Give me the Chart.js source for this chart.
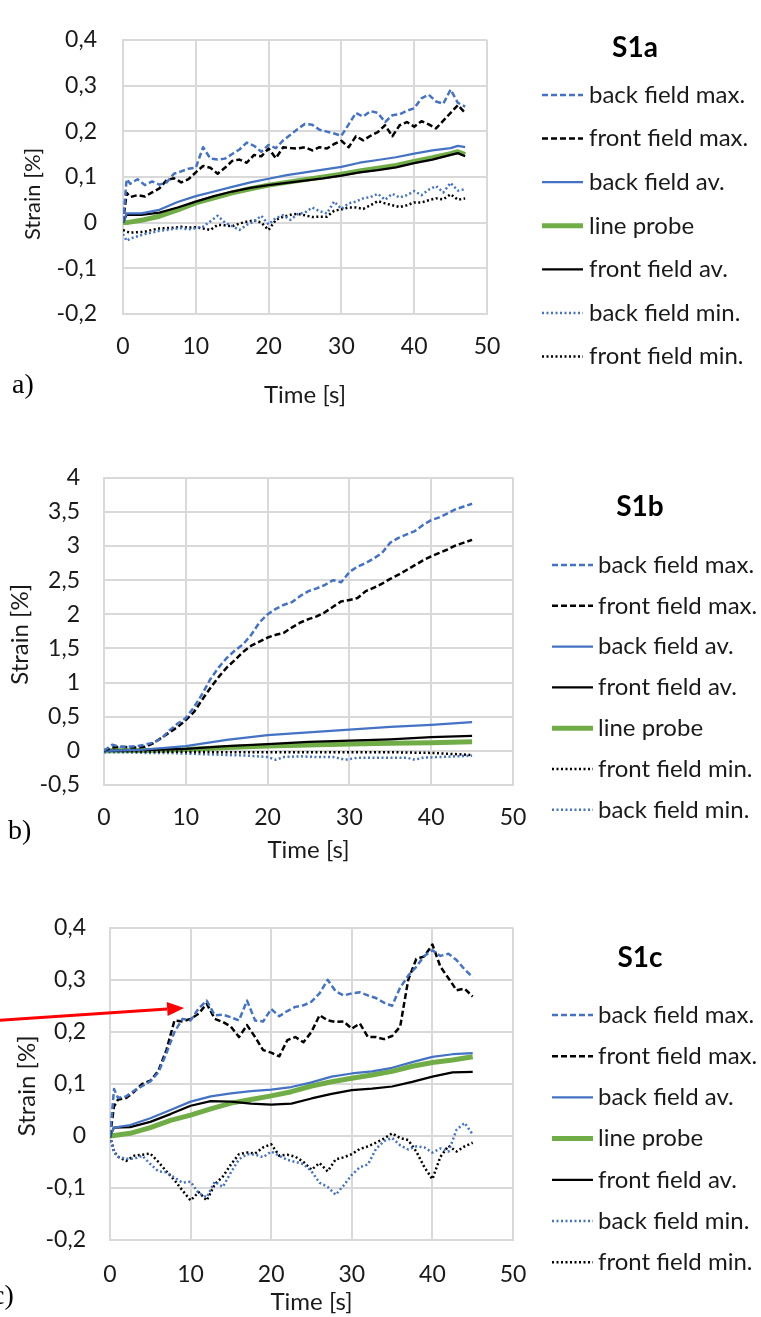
<!DOCTYPE html>
<html>
<head>
<meta charset="utf-8">
<script src="https://cdn.jsdelivr.net/npm/chart.js@4.4.1/dist/chart.umd.min.js"></script>
<style>
  html, body { margin: 0; padding: 0; background: #ffffff; }
  #page { position: relative; width: 761px; height: 1317px; overflow: hidden; background: #ffffff; }
  #page canvas { position: absolute; left: 0; }
</style>
</head>
<body>
<div id="page">
  <canvas id="chartA" width="761" height="430" style="top:0px"></canvas>
  <canvas id="chartB" width="761" height="440" style="top:440px"></canvas>
  <canvas id="chartC" width="761" height="427" style="top:890px"></canvas>
</div>
<script>
// ---------- shared tick values ----------
const xTickValues = [0, 10, 20, 30, 40, 50];
const yTicksA = [-0.2, -0.1, 0, 0.1, 0.2, 0.3, 0.4];
const yTicksB = [-0.5, 0, 0.5, 1, 1.5, 2, 2.5, 3, 3.5, 4];
const yTicksC = [-0.2, -0.1, 0, 0.1, 0.2, 0.3, 0.4];

// ---------- panel a (S1a) ----------
const timeA = [0, 0.5, 1, 2, 3, 4, 5, 6, 7, 8, 9, 10, 11, 12, 13, 14, 15, 16, 17, 18, 19, 20, 21, 22, 23, 24,
  25, 26, 27, 28, 29, 30, 31, 32, 33, 34, 35, 36, 37, 38, 39, 40, 41, 42, 43, 44, 45, 46, 47];
const backMaxA = [0, 0.095, 0.085, 0.095, 0.082, 0.09, 0.083, 0.088, 0.107, 0.112, 0.118, 0.12, 0.165, 0.14,
  0.138, 0.14, 0.15, 0.16, 0.175, 0.168, 0.155, 0.17, 0.163, 0.18, 0.192, 0.205, 0.216, 0.214, 0.203, 0.199,
  0.195, 0.19, 0.215, 0.24, 0.232, 0.244, 0.24, 0.22, 0.235, 0.237, 0.245, 0.25, 0.272, 0.28, 0.265, 0.26,
  0.291, 0.262, 0.254];
const frontMaxA = [0, 0.065, 0.056, 0.06, 0.057, 0.066, 0.075, 0.093, 0.097, 0.088, 0.095, 0.11, 0.124, 0.12,
  0.107, 0.12, 0.135, 0.138, 0.131, 0.148, 0.145, 0.162, 0.141, 0.165, 0.163, 0.162, 0.165, 0.158, 0.165,
  0.162, 0.172, 0.179, 0.165, 0.189, 0.18, 0.19, 0.198, 0.213, 0.189, 0.213, 0.22, 0.21, 0.222, 0.215, 0.206,
  0.223, 0.24, 0.257, 0.24];
const backMinA = [-0.025, -0.04, -0.035, -0.03, -0.025, -0.022, -0.018, -0.016, -0.014, -0.012, -0.015, -0.012,
  -0.009, 0.003, 0.015, 0.0, -0.008, -0.016, -0.005, 0.002, 0.015, -0.004, 0.01, 0.016, 0.006, 0.019, 0.022,
  0.033, 0.025, 0.02, 0.046, 0.03, 0.042, 0.046, 0.053, 0.056, 0.063, 0.05, 0.063, 0.055, 0.06, 0.069, 0.06,
  0.072, 0.08, 0.066, 0.087, 0.07, 0.073];
const frontMinA = [-0.016, -0.02, -0.022, -0.021, -0.02, -0.016, -0.013, -0.012, -0.011, -0.009, -0.011, -0.01,
  -0.013, -0.016, -0.005, -0.006, -0.008, -0.002, 0.002, 0.005, 0.0, -0.016, 0.006, 0.013, 0.017, 0.019, 0.016,
  0.012, 0.013, 0.013, 0.026, 0.029, 0.033, 0.033, 0.03, 0.038, 0.047, 0.042, 0.038, 0.034, 0.038, 0.044,
  0.044, 0.049, 0.053, 0.051, 0.062, 0.05, 0.053];
const timeAvA = [0, 0.5, 2.5, 5, 7.5, 10, 12.5, 15, 17.5, 20, 22.5, 25, 27.5, 30, 32.5, 35, 37.5, 40, 42.5, 45, 46, 47];
const backAvA = [0, 0.02, 0.02, 0.028, 0.045, 0.058, 0.068, 0.078, 0.088, 0.096, 0.104, 0.11, 0.116, 0.122,
  0.131, 0.137, 0.143, 0.151, 0.158, 0.163, 0.168, 0.165];
const probeA = [0, 0, 0.005, 0.014, 0.028, 0.043, 0.054, 0.065, 0.074, 0.082, 0.088, 0.094, 0.1, 0.106, 0.113,
  0.119, 0.125, 0.134, 0.142, 0.151, 0.155, 0.149];
const frontAvA = [0, 0.017, 0.017, 0.022, 0.033, 0.046, 0.058, 0.068, 0.076, 0.082, 0.087, 0.092, 0.097, 0.103,
  0.11, 0.115, 0.121, 0.13, 0.138, 0.148, 0.152, 0.145];

// ---------- panel b (S1b) ----------
const timeB = [0, 1, 2, 3, 4, 5, 6, 7, 8, 9, 10, 11, 12, 13, 14, 15, 16, 17, 18, 19, 20, 21, 22, 23, 24, 25,
  26, 27, 28, 29, 30, 31, 32, 33, 34, 35, 36, 37, 38, 39, 40, 41, 42, 43, 44, 45];
const backMaxB = [0, 0.09, 0.06, 0.06, 0.07, 0.09, 0.12, 0.18, 0.3, 0.4, 0.48, 0.64, 0.83, 1.05, 1.22, 1.36,
  1.47, 1.56, 1.7, 1.88, 2.0, 2.08, 2.14, 2.18, 2.27, 2.34, 2.38, 2.43, 2.5, 2.47, 2.62, 2.7, 2.75, 2.82, 2.9,
  3.05, 3.12, 3.17, 3.22, 3.31, 3.38, 3.42, 3.48, 3.54, 3.58, 3.62];
const frontMaxB = [0, 0.05, 0.06, 0.05, 0.05, 0.06, 0.11, 0.19, 0.27, 0.35, 0.45, 0.57, 0.75, 0.92, 1.08, 1.22,
  1.33, 1.45, 1.54, 1.6, 1.66, 1.7, 1.73, 1.81, 1.88, 1.93, 1.97, 2.03, 2.11, 2.19, 2.21, 2.24, 2.34, 2.39,
  2.45, 2.52, 2.58, 2.65, 2.72, 2.79, 2.85, 2.9, 2.95, 3.01, 3.05, 3.09];
const timeAvB = [0, 5, 10, 15, 20, 25, 30, 35, 40, 45];
const backAvB = [0, 0.02, 0.07, 0.16, 0.23, 0.27, 0.31, 0.35, 0.38, 0.42];
const frontAvB = [0, 0.01, 0.03, 0.07, 0.1, 0.13, 0.15, 0.17, 0.2, 0.22];
const probeB = [0, 0.005, 0.02, 0.05, 0.07, 0.085, 0.1, 0.11, 0.12, 0.135];
const frontMinB = [0, -0.01, -0.015, -0.02, -0.02, -0.02, -0.02, -0.02, -0.03, -0.06];
const timeMinB = [0, 2.5, 5, 7.5, 10, 12.5, 15, 17.5, 20, 21, 22, 24, 26, 28, 29.5, 31, 33, 35, 37, 38, 39, 41, 43, 45];
const backMinB = [-0.02, -0.02, -0.03, -0.03, -0.04, -0.05, -0.06, -0.07, -0.09, -0.13, -0.09, -0.08, -0.09,
  -0.09, -0.13, -0.1, -0.1, -0.1, -0.1, -0.13, -0.1, -0.09, -0.08, -0.07];

// ---------- panel c (S1c) ----------
const timeC = [0, 0.5, 1, 2, 3, 4, 5, 6, 7, 8, 9, 10, 11, 12, 13, 14, 15, 16, 17, 18, 19, 20, 21, 22, 23, 24,
  25, 26, 27, 28, 29, 30, 31, 32, 33, 34, 35, 36, 37, 38, 39, 40, 41, 42, 43, 44, 45];
const backMaxC = [0, 0.09, 0.073, 0.076, 0.087, 0.096, 0.105, 0.122, 0.159, 0.2, 0.225, 0.222, 0.245, 0.26,
  0.232, 0.233, 0.228, 0.222, 0.26, 0.222, 0.22, 0.244, 0.23, 0.24, 0.248, 0.251, 0.258, 0.274, 0.3, 0.278,
  0.27, 0.274, 0.276, 0.27, 0.265, 0.256, 0.25, 0.285, 0.308, 0.325, 0.346, 0.357, 0.346, 0.35, 0.338, 0.32, 0.305];
const frontMaxC = [0, 0.057, 0.07, 0.073, 0.085, 0.1, 0.106, 0.125, 0.165, 0.222, 0.22, 0.225, 0.235, 0.254,
  0.225, 0.219, 0.21, 0.19, 0.213, 0.19, 0.165, 0.16, 0.153, 0.184, 0.19, 0.18, 0.2, 0.232, 0.222, 0.219, 0.22,
  0.206, 0.216, 0.19, 0.19, 0.186, 0.192, 0.21, 0.3, 0.34, 0.345, 0.368, 0.325, 0.303, 0.28, 0.283, 0.268];
const backMinC = [0, -0.032, -0.04, -0.044, -0.044, -0.038, -0.054, -0.068, -0.07, -0.08, -0.09, -0.088, -0.11,
  -0.118, -0.088, -0.098, -0.07, -0.045, -0.035, -0.036, -0.041, -0.03, -0.038, -0.046, -0.05, -0.054, -0.068,
  -0.09, -0.098, -0.113, -0.095, -0.075, -0.06, -0.055, -0.025, -0.01, -0.004, -0.018, -0.026, -0.02, -0.022,
  -0.032, -0.024, -0.03, 0.012, 0.025, 0.003];
const frontMinC = [0, -0.03, -0.04, -0.048, -0.038, -0.036, -0.034, -0.05, -0.068, -0.085, -0.105, -0.124,
  -0.108, -0.124, -0.093, -0.078, -0.055, -0.035, -0.032, -0.034, -0.022, -0.016, -0.038, -0.036, -0.04, -0.05,
  -0.065, -0.052, -0.068, -0.045, -0.041, -0.035, -0.025, -0.02, -0.013, -0.005, 0.005, -0.004, -0.008, -0.03,
  -0.06, -0.083, -0.04, -0.019, -0.03, -0.02, -0.013];
const timeAvC = [0, 0.5, 2.5, 5, 7.5, 10, 12.5, 15, 17.5, 20, 22.5, 25, 27.5, 30, 32.5, 35, 37.5, 40, 42.5, 45];
const backAvC = [0, 0.016, 0.021, 0.034, 0.05, 0.066, 0.076, 0.082, 0.086, 0.089, 0.094, 0.103, 0.114, 0.12,
  0.124, 0.131, 0.142, 0.152, 0.157, 0.159];
const probeC = [0, 0.001, 0.005, 0.016, 0.03, 0.04, 0.052, 0.063, 0.07, 0.077, 0.085, 0.096, 0.104, 0.111,
  0.117, 0.124, 0.134, 0.141, 0.146, 0.152];
const frontAvC = [0, 0.016, 0.017, 0.027, 0.042, 0.058, 0.067, 0.066, 0.062, 0.06, 0.062, 0.072, 0.081, 0.088,
  0.091, 0.095, 0.104, 0.114, 0.122, 0.123];

// ---------- styling ----------
const FONT = 'Lato, "Open Sans", "DejaVu Sans", sans-serif';
const BLUE = '#4472C4', BLACK = '#000000', GREEN = '#70AD47';
const GRID = '#d9d9d9';
const TEXT = '#1a1a1a';

const SERIES = {
  backMax:  { label: 'back field max.',  color: BLUE,  width: 2.5, dash: [6, 3] },
  frontMax: { label: 'front field max.', color: BLACK, width: 2.5, dash: [6, 3] },
  backAv:   { label: 'back field av.',   color: BLUE,  width: 2.25, dash: [] },
  probe:    { label: 'line probe',       color: GREEN, width: 5,   dash: [], order: 1 },
  frontAv:  { label: 'front field av.',  color: BLACK, width: 2.25, dash: [] },
  backMin:  { label: 'back field min.',  color: BLUE,  width: 2.5, dash: [2, 2.5] },
  frontMin: { label: 'front field min.', color: BLACK, width: 2.5, dash: [2, 2.5] }
};

function points(times, values) {
  return times.map((t, i) => ({ x: t, y: values[i] }));
}

function dataset(kind, times, values) {
  const s = SERIES[kind];
  return {
    label: s.label,
    data: points(times, values),
    borderColor: s.color,
    backgroundColor: s.color,
    borderWidth: s.width,
    borderDash: s.dash,
    order: s.order || 0,
    pointRadius: 0,
    tension: 0,
    fill: false
  };
}

const commaFormat = v => String(Math.round(v * 10) / 10).replace('.', ',');

// Axis titles, panel letter, side legend and the optional red arrow
const panelDecor = {
  id: 'panelDecor',
  afterDatasetsDraw(chart, args, o) {
    if (!o.arrow) return;
    const { ctx } = chart;
    const xs = chart.scales.x, ys = chart.scales.y;
    const x1 = xs.getPixelForValue(o.arrow.from[0]), y1 = ys.getPixelForValue(o.arrow.from[1]);
    const x2 = xs.getPixelForValue(o.arrow.to[0]), y2 = ys.getPixelForValue(o.arrow.to[1]);
    const ang = Math.atan2(y2 - y1, x2 - x1);
    const c = Math.cos(ang), s = Math.sin(ang);
    const head = 17, half = 7;
    ctx.save();
    ctx.strokeStyle = o.arrow.color;
    ctx.fillStyle = o.arrow.color;
    ctx.lineWidth = o.arrow.width;
    ctx.beginPath();
    ctx.moveTo(x1, y1);
    ctx.lineTo(x2 - head * c, y2 - head * s);
    ctx.stroke();
    ctx.beginPath();
    ctx.moveTo(x2, y2);
    ctx.lineTo(x2 - head * c + half * s, y2 - head * s - half * c);
    ctx.lineTo(x2 - head * c - half * s, y2 - head * s + half * c);
    ctx.closePath();
    ctx.fill();
    ctx.restore();
  },
  afterDraw(chart, args, o) {
    const { ctx, chartArea: a } = chart;
    ctx.save();
    ctx.fillStyle = TEXT;
    ctx.textBaseline = 'middle';

    // y axis title
    ctx.save();
    ctx.font = o.yTitleFont;
    ctx.textAlign = 'center';
    ctx.translate(o.yTitleX, (a.top + a.bottom) / 2 + o.yTitleDy);
    ctx.rotate(-Math.PI / 2);
    ctx.fillText(o.yTitle, 0, 0);
    ctx.restore();

    // x axis title
    ctx.font = o.xTitleFont;
    ctx.textAlign = 'center';
    ctx.fillText(o.xTitle, (a.left + a.right) / 2, o.xTitleY);

    // panel letter
    ctx.font = o.letterFont;
    ctx.textAlign = 'left';
    ctx.fillStyle = '#000000';
    ctx.fillText(o.letter, o.letterX, o.letterY);

    // legend title
    const L = o.legend;
    ctx.font = L.titleFont;
    ctx.textAlign = 'center';
    ctx.fillText(L.title, L.titleX, L.titleY);

    // legend entries, in dataset order
    ctx.font = L.font;
    ctx.textAlign = 'left';
    chart.data.datasets.forEach((ds, i) => {
      const y = L.y0 + i * L.step;
      ctx.save();
      ctx.strokeStyle = ds.borderColor;
      ctx.lineWidth = ds.borderWidth;
      ctx.setLineDash(ds.borderDash || []);
      ctx.lineCap = 'butt';
      ctx.beginPath();
      ctx.moveTo(L.x1, y);
      ctx.lineTo(L.x2, y);
      ctx.stroke();
      ctx.restore();
      ctx.fillStyle = TEXT;
      ctx.fillText(ds.label, L.textX, y);
    });
    ctx.restore();
  }
};

function makeChart(id, geom, yTicks, datasets, decor) {
  const canvas = document.getElementById(id);
  const H = canvas.height;
  const tickFont = { family: FONT, size: 23, lineHeight: 1.2 };
  return new Chart(canvas, {
    type: 'line',
    data: { datasets },
    plugins: [panelDecor],
    options: {
      responsive: false,
      animation: false,
      devicePixelRatio: 1,
      layout: { padding: { top: geom.top, right: 761 - geom.right, bottom: 0, left: 0 } },
      plugins: {
        legend: { display: false },
        tooltip: { enabled: false },
        panelDecor: decor
      },
      elements: { point: { radius: 0 }, line: { borderJoinStyle: 'round', borderCapStyle: 'butt' } },
      scales: {
        x: {
          type: 'linear',
          min: xTickValues[0],
          max: xTickValues[xTickValues.length - 1],
          afterBuildTicks: s => { s.ticks = xTickValues.map(v => ({ value: v })); },
          afterFit: s => { s.height = H - geom.bottom; },
          grid: { color: GRID, lineWidth: 2, drawTicks: false },
          border: { color: GRID, width: 2 },
          ticks: { padding: geom.xPad, font: tickFont, color: TEXT, maxRotation: 0, autoSkip: false,
                   callback: v => commaFormat(v) }
        },
        y: {
          type: 'linear',
          min: yTicks[0],
          max: yTicks[yTicks.length - 1],
          afterBuildTicks: s => { s.ticks = yTicks.map(v => ({ value: v })); },
          afterFit: s => { s.width = geom.left; },
          grid: { color: GRID, lineWidth: 2, drawTicks: false },
          border: { color: GRID, width: 2 },
          ticks: { padding: geom.yPad, font: tickFont, color: TEXT, autoSkip: false,
                   callback: v => commaFormat(v) }
        }
      }
    }
  });
}

const legendFont = '24px ' + FONT;
const legendTitleFont = 'bold 28px ' + FONT;
const letterFont = '28px "Liberation Serif", "DejaVu Serif", serif';

// panel a
makeChart('chartA', { top: 20, bottom: 314, left: 123, right: 487, xPad: 19, yPad: 26 }, yTicksA, [
  dataset('backMax', timeA, backMaxA),
  dataset('frontMax', timeA, frontMaxA),
  dataset('backAv', timeAvA, backAvA),
  dataset('probe', timeAvA, probeA),
  dataset('frontAv', timeAvA, frontAvA),
  dataset('backMin', timeA, backMinA),
  dataset('frontMin', timeA, frontMinA)
], {
  yTitle: 'Strain [%]', yTitleX: 33, yTitleDy: 17, yTitleFont: '22px ' + FONT,
  xTitle: 'Time [s]', xTitleY: 395, xTitleFont: '24px ' + FONT,
  letter: 'a)', letterX: 12, letterY: 386, letterFont,
  legend: { title: 'S1a', titleX: 635, titleY: 48, titleFont: legendTitleFont, font: legendFont,
            y0: 95, step: 43.6, x1: 542, x2: 583, textX: 589 }
});

// panel b
makeChart('chartB', { top: 32, bottom: 345, left: 104, right: 513, xPad: 19, yPad: 24 }, yTicksB, [
  dataset('backMax', timeB, backMaxB),
  dataset('frontMax', timeB, frontMaxB),
  dataset('backAv', timeAvB, backAvB),
  dataset('frontAv', timeAvB, frontAvB),
  dataset('probe', timeAvB, probeB),
  dataset('frontMin', timeAvB, frontMinB),
  dataset('backMin', timeMinB, backMinB)
], {
  yTitle: 'Strain [%]', yTitleX: 20, yTitleDy: 3, yTitleFont: '24px ' + FONT,
  xTitle: 'Time [s]', xTitleY: 410, xTitleFont: '24px ' + FONT,
  letter: 'b)', letterX: 8, letterY: 392, letterFont,
  legend: { title: 'S1b', titleX: 640, titleY: 67, titleFont: legendTitleFont, font: legendFont,
            y0: 125, step: 40.8, x1: 552, x2: 593, textX: 598 }
});

// panel c
makeChart('chartC', { top: 35, bottom: 350, left: 110, right: 513, xPad: 21, yPad: 24 }, yTicksC, [
  dataset('backMax', timeC, backMaxC),
  dataset('frontMax', timeC, frontMaxC),
  dataset('backAv', timeAvC, backAvC),
  dataset('probe', timeAvC, probeC),
  dataset('frontAv', timeAvC, frontAvC),
  dataset('backMin', timeC, backMinC),
  dataset('frontMin', timeC, frontMinC)
], {
  yTitle: 'Strain [%]', yTitleX: 27, yTitleDy: 2, yTitleFont: '24px ' + FONT,
  xTitle: 'Time [s]', xTitleY: 412, xTitleFont: '24px ' + FONT,
  letter: 'c)', letterX: -8, letterY: 407, letterFont,
  legend: { title: 'S1c', titleX: 640, titleY: 68, titleFont: legendTitleFont, font: legendFont,
            y0: 125, step: 41.2, x1: 552, x2: 593, textX: 598 },
  arrow: { from: [-14, 0.222], to: [9.2, 0.246], color: '#ff0000', width: 3 }
});
</script>
</body>
</html>
